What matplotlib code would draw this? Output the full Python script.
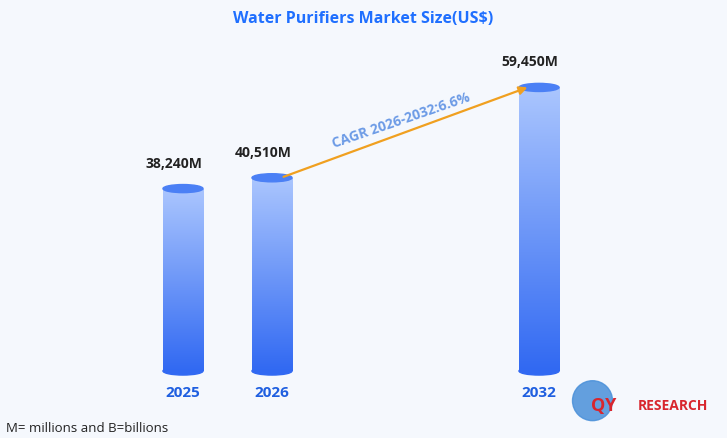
import numpy as np
import matplotlib.pyplot as plt
from matplotlib.patches import Ellipse, Rectangle
from matplotlib.colors import LinearSegmentedColormap

years = ["2025", "2026", "2032"]
positions = [0, 1, 4]
values = [38240, 40510, 59450]
value_labels = ["38,240M", "40,510M", "59,450M"]
cagr_text = "CAGR 2026-2032:6.6%"

plt.rcParams['font.family'] = ['Open Sans', 'DejaVu Sans']
fig = plt.figure(figsize=(7.27, 4.39), dpi=100)
fig.patch.set_facecolor('#F5F8FD')
ax = fig.add_axes([0, 0, 1, 1])
ax.set_facecolor('#F5F8FD')
ax.set_xlim(-2.056, 6.112)
ax.set_ylim(-14046, 77987)
ax.axis('off')

cmap = LinearSegmentedColormap.from_list('bar', ['#3169F2', '#ABC6FE'])
grad = np.linspace(0, 1, 256).reshape(-1, 1)
w = 0.45
cap_h = 1700
for x, v, lab, yr in zip(positions, values, value_labels, years):
    im = ax.imshow(grad, cmap=cmap, aspect='auto', origin='lower',
                   extent=[x - w / 2, x + w / 2, 0, v], zorder=2)
    clip = Rectangle((x - w / 2, 0), w, v, transform=ax.transData)
    im.set_clip_path(clip)
    ax.add_patch(Ellipse((x, 0), w, cap_h, color='#3169F2', zorder=1))
    ax.add_patch(Ellipse((x, v), w, cap_h, color='#4B80F5', zorder=3))
    ax.text(x - 0.1, v + 4000, lab, ha='center', va='bottom', fontsize=10,
            fontweight='bold', color='#222222')
    ax.text(x, -3000, yr, ha='center', va='top', fontsize=11,
            fontweight='bold', color='#1F5FE0')

ax.annotate('', xy=(positions[2] - 0.1, values[2] + 200),
            xytext=(positions[1] + 0.1, values[1]),
            arrowprops=dict(arrowstyle='-|>', color='#F0A020', lw=1.6,
                            mutation_scale=12), zorder=4)
ax.text(2.45, 52600, cagr_text, rotation=19, ha='center', va='center',
        fontsize=10, fontweight='bold', color='#6C9BE6')

ax.text(0.5, 0.975, "Water Purifiers Market Size(US$)", transform=ax.transAxes,
        ha='center', va='top', fontsize=11.5, fontweight='bold', color='#1F6FFF')
ax.text(0.008, 0.01, "M= millions and B=billions", transform=ax.transAxes,
        ha='left', va='bottom', fontsize=9.5, color='#222222')

# logo
fig.patches.append(Ellipse((0.815, 0.085), 0.055, 0.091, transform=fig.transFigure,
                           color='#4A90D9', alpha=0.85))
fig.text(0.83, 0.075, "QY", color='#D8262E', fontsize=13, fontweight='bold',
         ha='center', va='center')
fig.text(0.925, 0.075, "RESEARCH", color='#D8262E', fontsize=10,
         fontweight='bold', ha='center', va='center')

fig.savefig('out.png', dpi=100, facecolor=fig.get_facecolor())
